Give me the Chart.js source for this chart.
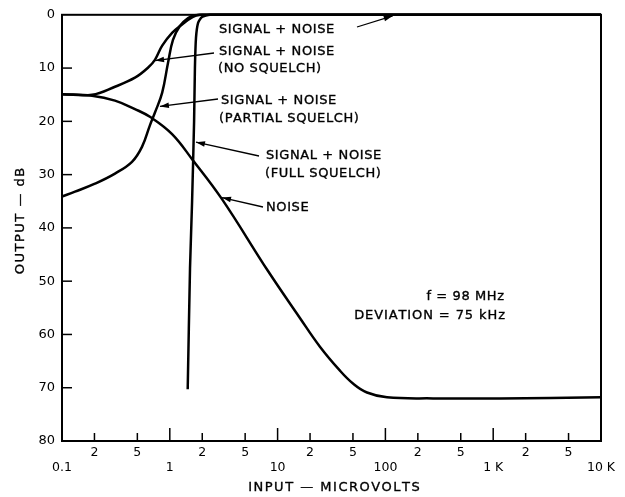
<!DOCTYPE html>
<html>
<head>
<meta charset="utf-8">
<script src="https://cdn.jsdelivr.net/npm/chart.js@4.4.1/dist/chart.umd.min.js"></script>
<style>
  html, body { margin: 0; padding: 0; background: #fff; }
  #wrap { width: 625px; height: 497px; }
</style>
</head>
<body>
<div id="wrap"><canvas id="c" width="625" height="497"></canvas></div>
<script>
// ---- data ----
const xTicks = [0.1, 0.2, 0.5, 1, 2, 5, 10, 20, 50, 100, 200, 500, 1000, 2000, 5000, 10000];
const xTickText = ['0.1', '2', '5', '1', '2', '5', '10', '2', '5', '100', '2', '5', '1 K', '2', '5', '10 K'];
const xDecades = [0.1, 1, 10, 100, 1000, 10000];
const yTicks = [0, 10, 20, 30, 40, 50, 60, 70, 80];

const noSquelchX = [0.1, 0.19, 0.31, 0.475, 0.63, 0.73, 0.85, 1.05, 1.3, 1.61, 1.9, 10000];
const noSquelchY = [14.9, 15.0, 13.5, 11.8, 9.9, 8.4, 5.8, 3.4, 1.8, 0.5, 0, 0];

const partialX = [0.1, 0.132, 0.202, 0.31, 0.446, 0.552, 0.655, 0.73, 0.85, 0.963, 1.07, 1.24, 1.48, 1.71, 2.0, 10000];
const partialY = [34.1, 33.2, 31.7, 29.8, 27.6, 24.8, 20.7, 18.3, 14.6, 9.0, 4.7, 2.1, 0.6, 0.1, 0, 0];

const fullX = [1.466, 1.54, 1.61, 1.68, 1.71, 1.75, 1.83, 1.99, 2.36, 10000];
const fullY = [70.3, 47.6, 35, 20, 10, 4.3, 1.5, 0.4, 0, 0];

const noiseX = [0.1, 0.19, 0.31, 0.475, 0.66, 1.05, 1.61, 3.05, 8.15, 16.1, 24.7, 37.9, 50, 67.5, 103.5, 277, 1156, 10000];
const noiseY = [14.9, 15.2, 16.1, 17.7, 19.2, 22.4, 27.1, 34.6, 48.1, 56.9, 62.3, 66.8, 69.2, 70.9, 71.8, 72, 72, 71.8];

// annotation arrow tips (data coordinates on the curves)
const calloutTipX = [117, 0.73, 0.81, 1.75, 3.05];
const calloutTipY = [0.2, 8.6, 17.2, 23.9, 34.3];

const toPts = (xs, ys) => xs.map((v, i) => ({ x: v, y: ys[i] }));

const lineStyle = {
  borderColor: '#000', borderWidth: 2.5, pointRadius: 0, fill: false,
  tension: 0.4, clip: 3
};

const FONT = "'DejaVu Sans', sans-serif";

function spaced(ctx, str, x, y, sp, align, bold) {
  const chars = [...str];
  const ws = chars.map(c => ctx.measureText(c).width);
  const total = ws.reduce((s, w) => s + w, 0) + sp * (chars.length - 1);
  let cx = align === 'right' ? x - total : align === 'center' ? x - total / 2 : x;
  const prevAlign = ctx.textAlign;
  ctx.textAlign = 'left';
  chars.forEach((c, i) => {
    ctx.fillText(c, cx, y);
    if (bold) ctx.strokeText(c, cx, y);
    cx += ws[i] + sp;
  });
  ctx.textAlign = prevAlign;
}

const decor = {
  id: 'decor',
  afterDatasetsDraw(chart) {
    const { ctx, chartArea: a, scales: { x, y } } = chart;
    ctx.save();
    ctx.strokeStyle = '#000';
    ctx.fillStyle = '#000';
    // frame
    ctx.lineWidth = 2;
    ctx.strokeRect(a.left, a.top, a.right - a.left, a.bottom - a.top);
    // inward tick marks on x
    ctx.lineWidth = 1.5;
    xTicks.forEach(v => {
      if (v === xTicks[0] || v === xTicks[xTicks.length - 1]) return;
      const px = x.getPixelForValue(v);
      const len = xDecades.includes(v) ? 13 : 8;
      ctx.beginPath();
      ctx.moveTo(px, a.bottom);
      ctx.lineTo(px, a.bottom - len);
      ctx.stroke();
    });
    // inward tick marks on y
    yTicks.forEach(v => {
      if (v === 0 || v === 80) return;
      const py = y.getPixelForValue(v);
      ctx.beginPath();
      ctx.moveTo(a.left, py);
      ctx.lineTo(a.left + 10, py);
      ctx.stroke();
    });

    // callout leader lines with arrowheads
    const starts = [[357, 27], [214, 53], [218, 99], [259, 156], [263, 207]];
    ctx.lineWidth = 1.3;
    starts.forEach((s, i) => {
      const tx = x.getPixelForValue(calloutTipX[i]);
      const ty = y.getPixelForValue(calloutTipY[i]);
      ctx.beginPath();
      ctx.moveTo(s[0], s[1]);
      ctx.lineTo(tx, ty);
      ctx.stroke();
      const ang = Math.atan2(ty - s[1], tx - s[0]);
      const L = 9, W = 2.8;
      ctx.beginPath();
      ctx.moveTo(tx, ty);
      ctx.lineTo(tx - L * Math.cos(ang) + W * Math.sin(ang), ty - L * Math.sin(ang) - W * Math.cos(ang));
      ctx.lineTo(tx - L * Math.cos(ang) - W * Math.sin(ang), ty - L * Math.sin(ang) + W * Math.cos(ang));
      ctx.closePath();
      ctx.fill();
    });

    // callout texts
    ctx.font = '13px ' + FONT;
    ctx.textBaseline = 'middle';
    ctx.lineWidth = 0.35;
    const texts = [
      ['SIGNAL + NOISE', 219, 30],
      ['SIGNAL + NOISE', 219, 52],
      ['(NO SQUELCH)', 218, 69],
      ['SIGNAL + NOISE', 221, 101],
      ['(PARTIAL SQUELCH)', 219, 119],
      ['SIGNAL + NOISE', 266, 156],
      ['(FULL SQUELCH)', 265, 174],
      ['NOISE', 266, 208]
    ];
    texts.forEach(t => spaced(ctx, t[0], t[1], t[2], 0.6, 'left', true));
    spaced(ctx, 'f = 98 MHz', 504, 297, 0.6, 'right', true);
    spaced(ctx, 'DEVIATION = 75 kHz', 505, 316, 0.9, 'right', true);

    // axis titles
    spaced(ctx, 'INPUT — MICROVOLTS', 334, 488, 1.5, 'center', true);
    ctx.save();
    ctx.translate(21, 221);
    ctx.rotate(-Math.PI / 2);
    spaced(ctx, 'OUTPUT — dB', 0, 0, 1.5, 'center', true);
    ctx.restore();
    ctx.restore();
  }
};

new Chart(document.getElementById('c'), {
  type: 'line',
  data: {
    datasets: [
      Object.assign({ label: 'SIGNAL + NOISE (NO SQUELCH)', data: toPts(noSquelchX, noSquelchY) }, lineStyle),
      Object.assign({ label: 'SIGNAL + NOISE (PARTIAL SQUELCH)', data: toPts(partialX, partialY) }, lineStyle),
      Object.assign({ label: 'SIGNAL + NOISE (FULL SQUELCH)', data: toPts(fullX, fullY) }, lineStyle, { tension: 0.2 }),
      Object.assign({ label: 'NOISE', data: toPts(noiseX, noiseY) }, lineStyle)
    ]
  },
  options: {
    responsive: false,
    animation: false,
    events: [],
    layout: { padding: { left: 0, top: 12, right: 24, bottom: 0 } },
    plugins: { legend: { display: false }, tooltip: { enabled: false } },
    scales: {
      x: {
        type: 'logarithmic',
        min: 0.1, max: 10000,
        afterBuildTicks: s => { s.ticks = xTicks.map(v => ({ value: v })); },
        afterFit: s => { s.height = 56; },
        grid: { display: false, drawTicks: false },
        border: { display: false },
        ticks: {
          autoSkip: false, maxRotation: 0, minRotation: 0, padding: 4,
          color: '#000', font: { family: FONT, size: 12.5 },
          callback: (v, i) => xDecades.includes(xTicks[i]) ? ['', xTickText[i]] : xTickText[i]
        },
        title: { display: false }
      },
      y: {
        type: 'linear',
        reverse: true,
        min: 0, max: 80,
        afterBuildTicks: s => { s.ticks = yTicks.map(v => ({ value: v })); },
        afterFit: s => { s.width = 62; },
        grid: { display: false, drawTicks: false },
        border: { display: false },
        ticks: { padding: 7, color: '#000', font: { family: FONT, size: 13 } },
        title: { display: false }
      }
    }
  },
  plugins: [decor]
});
</script>
</body>
</html>
